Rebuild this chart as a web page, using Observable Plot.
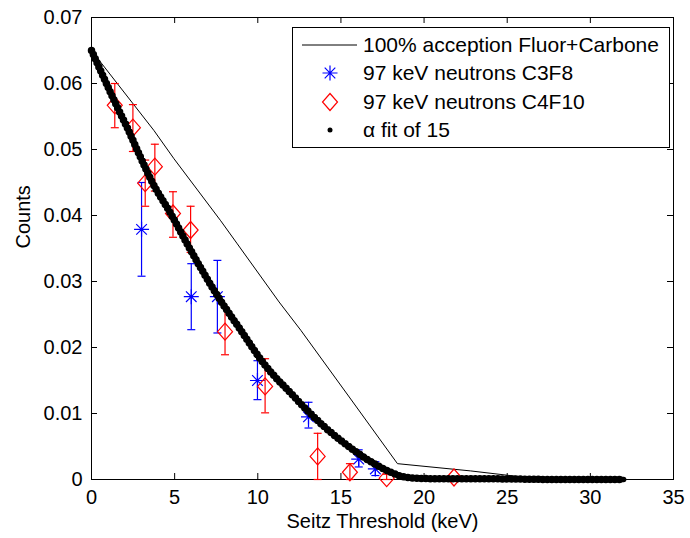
<!DOCTYPE html>
<html>
<head>
<meta charset="utf-8">
<script src="https://cdn.jsdelivr.net/npm/d3@7"></script>
<script src="https://cdn.jsdelivr.net/npm/@observablehq/plot@0.6"></script>
<style>
  html, body { margin: 0; padding: 0; background: #fff; }
  #wrap { position: relative; width: 690px; height: 538px; font-family: "Liberation Sans", Arial, sans-serif; }
  #legend { position: absolute; left: 292px; top: 27px; width: 378px; height: 121px; box-sizing: border-box;
            border: 1px solid #000; background: #fff; padding-top: 3px; font-size: 21px; color: #000; }
  .row { display: flex; align-items: center; height: 28.3px; white-space: nowrap; }
  .row svg { margin-left: 9px; flex: none; }
  .row span { margin-left: 6px; }
</style>
</head>
<body>
<div id="wrap"></div>
<script>
// ---- data ----
const xTicks = [0, 5, 10, 15, 20, 25, 30, 35];
const xTickLabels = ["0", "5", "10", "15", "20", "25", "30", "35"];
const yTicks = [0, 0.01, 0.02, 0.03, 0.04, 0.05, 0.06, 0.07];
const yTickLabels = ["0", "0.01", "0.02", "0.03", "0.04", "0.05", "0.06", "0.07"];

// 100% acception Fluor+Carbone
const theoryX = [0, 3.75, 4.96, 7.77, 8.77, 11.28, 12.59, 15.5, 18.4, 22.8, 25.5];
const theoryY = [0.065, 0.0529, 0.0486, 0.0392, 0.0357, 0.0269, 0.0226, 0.0125, 0.0024, 0.0013, 0.0005];

// 97 keV neutrons C3F8
const c3f8X  = [3.01, 6.0, 7.57, 9.98, 13.05, 16.07, 17.07];
const c3f8Y  = [0.0379, 0.0277, 0.0277, 0.0150, 0.0095, 0.0031, 0.0016];
const c3f8Lo = [0.0308, 0.0227, 0.0222, 0.0121, 0.0078, 0.0019, 0.0006];
const c3f8Hi = [0.0450, 0.0327, 0.0332, 0.0180, 0.0117, 0.0045, 0.0027];

// 97 keV neutrons C4F10
const c4f10X  = [1.4, 2.49, 3.23, 3.81, 4.9, 5.96, 8.03, 10.44, 13.6, 15.54, 17.75, 21.8];
const c4f10Y  = [0.0567, 0.0533, 0.0449, 0.0474, 0.0403, 0.0378, 0.0224, 0.0141, 0.0035, 0.0011, 0.0002, 0.0003];
const c4f10Lo = [0.0533, 0.0497, 0.0414, 0.0437, 0.0367, 0.0344, 0.0189, 0.0101, 0.0, 0.0, 0.0, 0.0003];
const c4f10Hi = [0.0600, 0.0568, 0.0484, 0.0508, 0.0436, 0.0414, 0.0261, 0.0183, 0.0070, 0.0024, 0.0008, 0.0003];

// alpha fit of 15
const fitX = [0, 0.5, 1.5, 2.15, 2.95, 3.6, 4.76, 5.86, 7.61, 8.98, 10.38, 12.09, 13.0, 14.0, 15.0, 16.07, 17.0, 18.0, 18.6, 19.5, 21, 24, 28, 32];
const fitY = [0.065, 0.0622, 0.0567, 0.0533, 0.0488, 0.0453, 0.0403, 0.0352, 0.0277, 0.0226, 0.0175, 0.0128, 0.0104, 0.0080, 0.0059, 0.0039, 0.0024, 0.0011, 0.0005, 0.0002, 0.0001, 0.0001, 0.0, 0.0];

// ---- build tables ----
const theory = theoryX.map((x, i) => ({x, y: theoryY[i]}));
const c3f8 = c3f8X.map((x, i) => ({x, y: c3f8Y[i], lo: c3f8Lo[i], hi: c3f8Hi[i]}));
const c4f10 = c4f10X.map((x, i) => ({x, y: c4f10Y[i], lo: c4f10Lo[i], hi: c4f10Hi[i]}));
const fit = fitX.map((x, i) => ({x, y: fitY[i]}));

// ---- custom marker shapes ----
const asterisk = { draw(ctx) { const r = 7.5, d = 5.3;
  ctx.moveTo(-r, 0); ctx.lineTo(r, 0); ctx.moveTo(0, -r); ctx.lineTo(0, r);
  ctx.moveTo(-d, -d); ctx.lineTo(d, d); ctx.moveTo(-d, d); ctx.lineTo(d, -d); } };
const diamond = { draw(ctx) { const w = 7.5, h = 8.5;
  ctx.moveTo(0, -h); ctx.lineTo(w, 0); ctx.lineTo(0, h); ctx.lineTo(-w, 0); ctx.closePath(); } };
const cap = { draw(ctx) { ctx.moveTo(-4, 0); ctx.lineTo(4, 0); } };

const W = 690, H = 538, mL = 91, mR = 17, mT = 17, mB = 59;
const innerW = W - mL - mR, innerH = H - mT - mB;
const font = "Liberation Sans, Arial, sans-serif";

function errMarks(data, color) {
  const e = data.filter(d => d.hi > d.lo);
  return [
    Plot.ruleX(e, {x: "x", y1: "lo", y2: "hi", stroke: color, strokeWidth: 1.2}),
    Plot.dot(e, {x: "x", y: "lo", symbol: cap, r: 4, fill: "none", stroke: color, strokeWidth: 1.2}),
    Plot.dot(e, {x: "x", y: "hi", symbol: cap, r: 4, fill: "none", stroke: color, strokeWidth: 1.2})
  ];
}

const chart = Plot.plot({
  width: W, height: H,
  marginLeft: mL, marginRight: mR, marginTop: mT, marginBottom: mB,
  x: {domain: [0, 35]},
  y: {domain: [0, 0.07]},
  style: {fontFamily: font, fontSize: "20px", background: "white", color: "black", overflow: "visible"},
  marks: [
    Plot.frame({stroke: "black", strokeWidth: 1}),
    Plot.tickX(xTicks, {x: d => d, insetTop: innerH - 6, stroke: "black"}),
    Plot.tickX(xTicks, {x: d => d, insetBottom: innerH - 6, stroke: "black"}),
    Plot.tickY(yTicks, {y: d => d, insetRight: innerW - 6, stroke: "black"}),
    Plot.tickY(yTicks, {y: d => d, insetLeft: innerW - 6, stroke: "black"}),
    Plot.axisX({ticks: xTicks, tickSize: 0, tickPadding: 10, label: null, fontSize: 20,
                tickFormat: d => xTickLabels[xTicks.indexOf(d)]}),
    Plot.axisY({ticks: yTicks, tickSize: 0, tickPadding: 9, label: null, fontSize: 20,
                tickFormat: d => yTickLabels[yTicks.indexOf(d)]}),
    Plot.text(["Counts"], {text: d => d, frameAnchor: "left", dx: -68, rotate: -90, fontSize: 20, fill: "black"}),
    Plot.text(["Seitz Threshold (keV)"], {text: d => d, frameAnchor: "bottom", dy: 48, fontSize: 20, fill: "black"}),
    // theory
    Plot.line(theory, {x: "x", y: "y", stroke: "black", strokeWidth: 1}),
    // C3F8
    ...errMarks(c3f8, "blue"),
    Plot.dot(c3f8, {x: "x", y: "y", symbol: asterisk, r: 7, fill: "none", stroke: "blue", strokeWidth: 1.2}),
    // C4F10
    ...errMarks(c4f10, "red"),
    Plot.dot(c4f10, {x: "x", y: "y", symbol: diamond, r: 8, fill: "none", stroke: "red", strokeWidth: 1.2}),
    // fit: chain of dots (solid core + beaded outline)
    Plot.line(fit, {x: "x", y: "y", stroke: "black", strokeWidth: 5.5, curve: "monotone-x"}),
    Plot.line(fit, {x: "x", y: "y", stroke: "black", strokeWidth: 7.5, strokeDasharray: "0 4.5",
                    strokeLinecap: "round", curve: "monotone-x"})
  ]
});

const wrap = document.getElementById("wrap");
wrap.appendChild(chart);

// legend (overlay, upper right)
const legend = document.createElement("div");
legend.id = "legend";
const items = [
  {label: "100% acception Fluor+Carbone", sym: '<line x1="0" y1="14" x2="55" y2="14" stroke="black" stroke-width="1"/>'},
  {label: "97 keV neutrons C3F8", sym: '<path d="M20.5,14H35.5M28,6.5V21.5M22.7,8.7L33.3,19.3M22.7,19.3L33.3,8.7" stroke="blue" stroke-width="1.2" fill="none"/>'},
  {label: "97 keV neutrons C4F10", sym: '<path d="M28,5.5L35.5,14L28,22.5L20.5,14Z" stroke="red" stroke-width="1.2" fill="none"/>'},
  {label: "\u03b1 fit of 15", sym: '<circle cx="28" cy="14" r="2.5" fill="black"/>'}
];
for (const it of items) {
  const row = document.createElement("div");
  row.className = "row";
  row.innerHTML = `<svg width="55" height="28" viewBox="0 0 55 28">${it.sym}</svg><span>${it.label}</span>`;
  legend.appendChild(row);
}
wrap.appendChild(legend);
</script>
</body>
</html>
